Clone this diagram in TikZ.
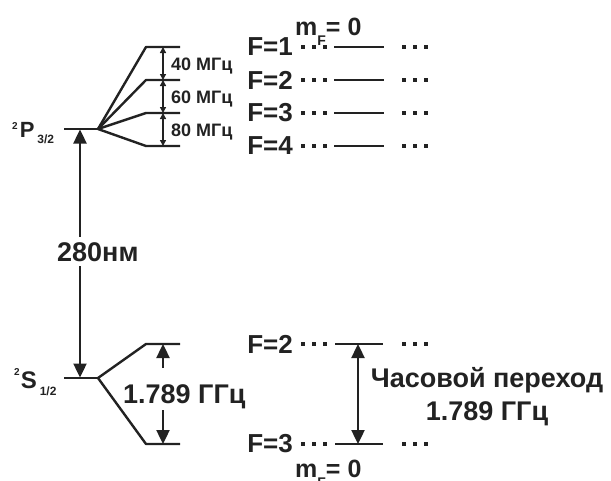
\documentclass[tikz,border=0pt]{standalone}
\usepackage{fontspec}
\setmainfont{Liberation Sans}
\usetikzlibrary{arrows.meta}
\definecolor{ink}{HTML}{222222}
\begin{document}
\begin{tikzpicture}[x=1pt,y=-1pt,
  lvl/.style={draw=ink,line width=2.4pt},
  bigarrow/.style={draw=ink,line width=2.4pt,{Triangle[length=14pt,width=13pt]}-{Triangle[length=14pt,width=13pt]}},
  onearrow/.style={draw=ink,line width=2.4pt,-{Triangle[length=14pt,width=13pt]}},
  smallarrow/.style={draw=ink,line width=1.4pt,{Triangle[length=6pt,width=6pt]}-{Triangle[length=6pt,width=6pt]}},
  dotsline/.style={draw=ink,line width=4pt,dash pattern=on 4pt off 7pt},
  txt/.style={inner sep=0pt,text=ink,font=\bfseries},
  bigtxt/.style={txt,font=\fontsize{27}{33}\selectfont\bfseries},
  ftxt/.style={txt,font=\fontsize{26}{30}\selectfont\bfseries,anchor=east},
  smalltxt/.style={txt,font=\fontsize{18}{20}\selectfont\bfseries,anchor=base west},
  mftxt/.style={txt,font=\fontsize{25}{28}\selectfont\bfseries,anchor=base west}
]
\useasboundingbox (0,0) rectangle (611,480);

% ---------- 2P3/2 level and hyperfine structure ----------
\node[txt,anchor=base west] (plab) at (12,137)
  {{\fontsize{10}{10}\selectfont\raisebox{8pt}{2}}\hspace{2pt}{\fontsize{22}{24}\selectfont P}\hspace{3pt}{\fontsize{12}{12}\selectfont\raisebox{-6pt}{3/2}}};
\coordinate (pL) at (64,129);
\coordinate (pR) at (98,129);
\draw[lvl] (pL) -- (pR);
\foreach \i/\y in {1/47,2/80,3/113,4/146}{
  \coordinate (p\i a) at (146,\y);
  \coordinate (p\i b) at (180,\y);
  \coordinate (p\i m) at (163,\y);
  \draw[lvl,line join=round] (pR) -- (p\i a) -- (p\i b);
}
\draw[smallarrow] (p1m) -- (p2m);
\draw[smallarrow] (p2m) -- (p3m);
\draw[smallarrow] (p3m) -- (p4m);
\node[smalltxt] (f40) at (171,70) {40 МГц};
\node[smalltxt] (f60) at (171,103) {60 МГц};
\node[smalltxt] (f80) at (171,136) {80 МГц};

% ---------- 2S1/2 level ----------
\node[txt,anchor=base west] (slab) at (14,388)
  {{\fontsize{10}{10}\selectfont\raisebox{13pt}{2}}\hspace{1pt}{\fontsize{24}{26}\selectfont S}\hspace{3pt}{\fontsize{12}{12}\selectfont\raisebox{-7pt}{1/2}}};
\coordinate (sL) at (64,378);
\coordinate (sR) at (98,378);
\draw[lvl] (sL) -- (sR);
\foreach \i/\y in {U/344,D/444}{
  \coordinate (s\i a) at (146,\y);
  \coordinate (s\i b) at (180,\y);
  \coordinate (s\i m) at (163,\y);
  \draw[lvl,line join=round] (sR) -- (s\i a) -- (s\i b);
}
\coordinate (sa1) at (163,368);
\coordinate (sa2) at (163,410);
\draw[onearrow] (sa1) -- (sUm);
\draw[onearrow] (sa2) -- (sDm);
\node[bigtxt,anchor=base west] (ghz) at (123,403) {1.789 ГГц};

% ---------- optical transition ----------
\coordinate (pA) at (80,129.5);
\coordinate (sA) at (80,377.5);
\draw[bigarrow] (pA) -- (sA);
\node[bigtxt,anchor=base west,fill=white,inner xsep=2pt,inner ysep=5pt] (nm) at (55,261) {280нм};

% ---------- right: m_F = 0 sublevels of P ----------
\node[mftxt] (mftop) at (295,35) {m\raisebox{-10pt}{\fontsize{14}{14}\selectfont F}= 0};
\foreach \i/\y in {1/47,2/80,3/113,4/146}{
  \node[ftxt] (F\i) at (293,\y) {F=\i};
  \coordinate (d\i a) at (301,\y); \coordinate (d\i b) at (327,\y);
  \coordinate (l\i a) at (334,\y); \coordinate (l\i b) at (384,\y);
  \coordinate (e\i a) at (402,\y); \coordinate (e\i b) at (428,\y);
  \draw[dotsline] (d\i a) -- (d\i b);
  \draw[lvl] (l\i a) -- (l\i b);
  \draw[dotsline] (e\i a) -- (e\i b);
}

% ---------- right: clock transition ----------
\foreach \i/\n/\y in {U/2/344,D/3/444}{
  \node[ftxt] (G\i) at (293,\y) {F=\n};
  \coordinate (g\i a) at (301,\y); \coordinate (g\i b) at (327,\y);
  \coordinate (k\i a) at (335,\y); \coordinate (k\i b) at (383,\y);
  \coordinate (k\i m) at (358,\y);
  \coordinate (h\i a) at (402,\y); \coordinate (h\i b) at (428,\y);
  \draw[dotsline] (g\i a) -- (g\i b);
  \draw[lvl] (k\i a) -- (k\i b);
  \draw[dotsline] (h\i a) -- (h\i b);
}
\draw[bigarrow] (kUm) -- (kDm);
\node[bigtxt,anchor=base,align=center] (clock) at (487,420) {Часовой переход\\1.789 ГГц};
\node[mftxt] (mfbot) at (295,477) {m\raisebox{-10pt}{\fontsize{14}{14}\selectfont F}= 0};
\end{tikzpicture}
\end{document}
